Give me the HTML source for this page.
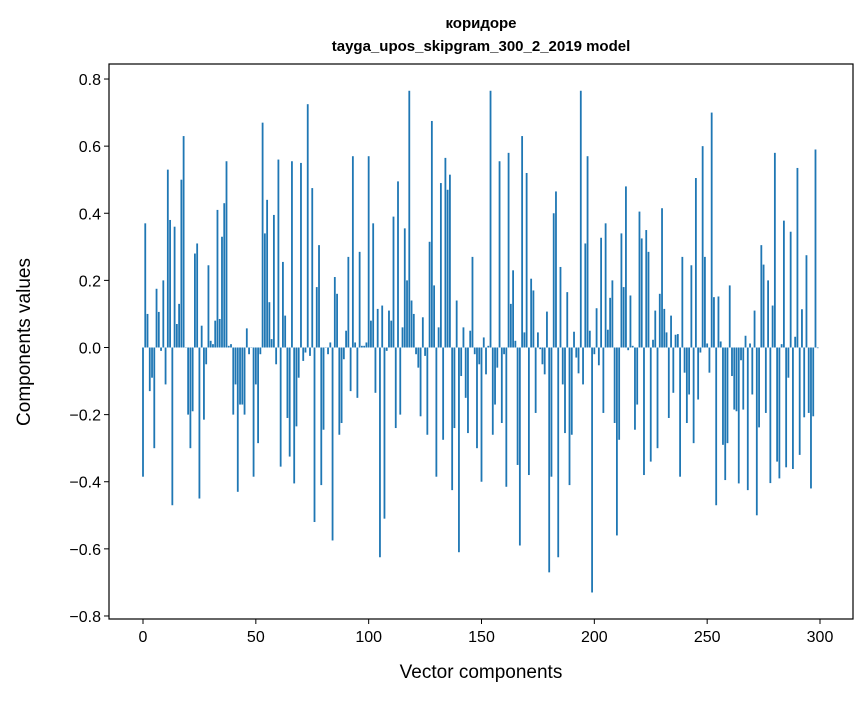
<!DOCTYPE html>
<html><head><meta charset="utf-8"><style>
body{margin:0;background:#fff;}
svg text{font-family:"Liberation Sans","DejaVu Sans",sans-serif;fill:#000;}
</style></head><body>
<svg id="chart" width="867" height="696" xmlns="http://www.w3.org/2000/svg">
<rect width="867" height="696" fill="#fff"/>
<text x="481" y="28" text-anchor="middle" font-size="15" font-weight="bold">коридоре</text>
<text x="481" y="51" text-anchor="middle" font-size="15" font-weight="bold">tayga_upos_skipgram_300_2_2019 model</text>
<g id="bars"></g>
<g id="axes"></g>
<text x="481" y="678" text-anchor="middle" font-size="19">Vector components</text>
<text transform="translate(30,342) rotate(-90)" text-anchor="middle" font-size="19">Components values</text>
</svg>
<script>
const values = [-0.385,0.37,0.10,-0.13,-0.09,-0.30,0.175,0.106,-0.01,0.20,-0.11,0.53,0.38,-0.47,0.36,0.07,0.13,0.50,0.63,0.0,-0.20,-0.30,-0.19,0.28,0.31,-0.45,0.065,-0.215,-0.05,0.245,0.02,0.01,0.08,0.41,0.085,0.33,0.43,0.555,0.005,0.01,-0.20,-0.11,-0.43,-0.17,-0.17,-0.2,0.057,-0.02,0.0,-0.385,
-0.11,-0.285,-0.02,0.67,0.34,0.44,0.135,0.025,0.395,-0.05,0.56,-0.355,0.255,0.095,-0.21,-0.325,0.555,-0.405,-0.235,-0.09,0.55,-0.04,-0.015,0.725,-0.025,0.475,-0.52,0.18,0.305,-0.41,-0.245,0.0,-0.02,0.015,-0.575,0.21,0.16,-0.26,-0.225,-0.035,0.05,0.27,-0.13,0.57,0.015,-0.15,0.285,0.005,0.005,0.015,0.57,
0.08,0.37,-0.135,0.115,-0.625,0.125,-0.51,-0.01,0.11,0.08,0.39,-0.24,0.495,-0.2,0.06,0.355,0.2,0.765,0.14,0.10,-0.02,-0.06,-0.205,0.09,-0.025,-0.26,0.315,0.675,0.185,-0.385,0.06,0.49,-0.275,0.565,0.47,0.515,-0.425,-0.24,0.14,-0.61,-0.085,0.06,-0.15,-0.255,0.05,0.27,-0.02,-0.3,-0.05,-0.40,
0.03,-0.08,0.005,0.765,-0.26,-0.17,-0.06,0.555,-0.225,-0.02,-0.415,0.58,0.13,0.23,0.02,-0.35,-0.59,0.63,0.045,0.52,-0.38,0.205,0.17,-0.195,0.045,-0.005,-0.05,-0.08,0.107,-0.67,-0.385,0.40,0.465,-0.625,0.24,-0.11,-0.255,0.165,-0.41,-0.26,0.047,-0.03,-0.077,0.765,-0.11,0.31,0.57,0.05,-0.73,
-0.02,0.117,-0.053,0.327,-0.195,0.37,0.053,0.148,0.2,-0.225,-0.56,-0.275,0.34,0.18,0.48,-0.008,0.155,0.005,-0.245,-0.17,0.405,0.325,-0.38,0.35,0.285,-0.34,0.023,0.11,-0.3,0.16,0.415,0.115,0.045,-0.21,0.095,-0.135,0.038,0.04,-0.385,0.27,-0.075,-0.225,-0.14,0.245,-0.285,0.505,-0.155,-0.015,0.60,0.27,0.012,
-0.075,0.7,0.15,-0.47,0.152,0.018,-0.29,-0.395,-0.285,0.185,-0.085,-0.185,-0.19,-0.405,-0.038,-0.185,0.035,-0.425,0.012,-0.14,0.11,-0.5,-0.238,0.305,0.247,-0.195,0.2,-0.404,0.125,0.58,-0.34,-0.39,0.01,0.378,-0.357,-0.09,0.345,-0.362,0.032,0.535,-0.32,0.114,-0.208,0.275,-0.195,-0.42,-0.205,0.59,-0.002];
const xTicks = [0,50,100,150,200,250,300];
const yTicks = [-0.8,-0.6,-0.4,-0.2,0.0,0.2,0.4,0.6,0.8];
const yTickLabels = ["\u22120.8","\u22120.6","\u22120.4","\u22120.2","0.0","0.2","0.4","0.6","0.8"];

const NS="http://www.w3.org/2000/svg";
const L=109,R=853,T=64,B=619;
function xs(i){return 143+(820-143)/300*i;}
function ys(v){return 347.5-v*335.6;}
const bw=(820-143)/300*0.8;
const bars=document.getElementById('bars');
values.forEach((v,i)=>{
  const r=document.createElementNS(NS,'rect');
  
  
  const y0=ys(0),y1=ys(v);
  r.setAttribute('x',xs(i)-bw/2);
  r.setAttribute('y',Math.min(y0,y1));
  r.setAttribute('width',bw);
  r.setAttribute('height',Math.max(Math.abs(y1-y0),0.3));
  r.setAttribute('fill','#1f77b4');
  bars.appendChild(r);
});
const ax=document.getElementById('axes');
const frame=document.createElementNS(NS,'rect');


frame.setAttribute('x',L);frame.setAttribute('y',T);frame.setAttribute('width',R-L);frame.setAttribute('height',B-T);
frame.setAttribute('fill','none');frame.setAttribute('stroke','#000');frame.setAttribute('stroke-width','1.2');
ax.appendChild(frame);
xTicks.forEach(t=>{
  const ln=document.createElementNS(NS,'line');
  
  
  ln.setAttribute('x1',xs(t));ln.setAttribute('x2',xs(t));ln.setAttribute('y1',B);ln.setAttribute('y2',B+5);ln.setAttribute('stroke','#000');
  ax.appendChild(ln);
  const tx=document.createElementNS(NS,'text');
  
  
  tx.setAttribute('x',xs(t));tx.setAttribute('y',B+23);tx.setAttribute('text-anchor','middle');tx.setAttribute('font-size','16');
  tx.textContent=t;ax.appendChild(tx);
});
yTicks.forEach((t,k)=>{
  const ln=document.createElementNS(NS,'line');
  
  
  ln.setAttribute('x1',L-5);ln.setAttribute('x2',L);ln.setAttribute('y1',ys(t));ln.setAttribute('y2',ys(t));ln.setAttribute('stroke','#000');
  ax.appendChild(ln);
  const tx=document.createElementNS(NS,'text');
  
  
  tx.setAttribute('x',L-8);tx.setAttribute('y',ys(t)+6);tx.setAttribute('text-anchor','end');tx.setAttribute('font-size','16');
  tx.textContent=yTickLabels[k];ax.appendChild(tx);
});
</script>
</body></html>
